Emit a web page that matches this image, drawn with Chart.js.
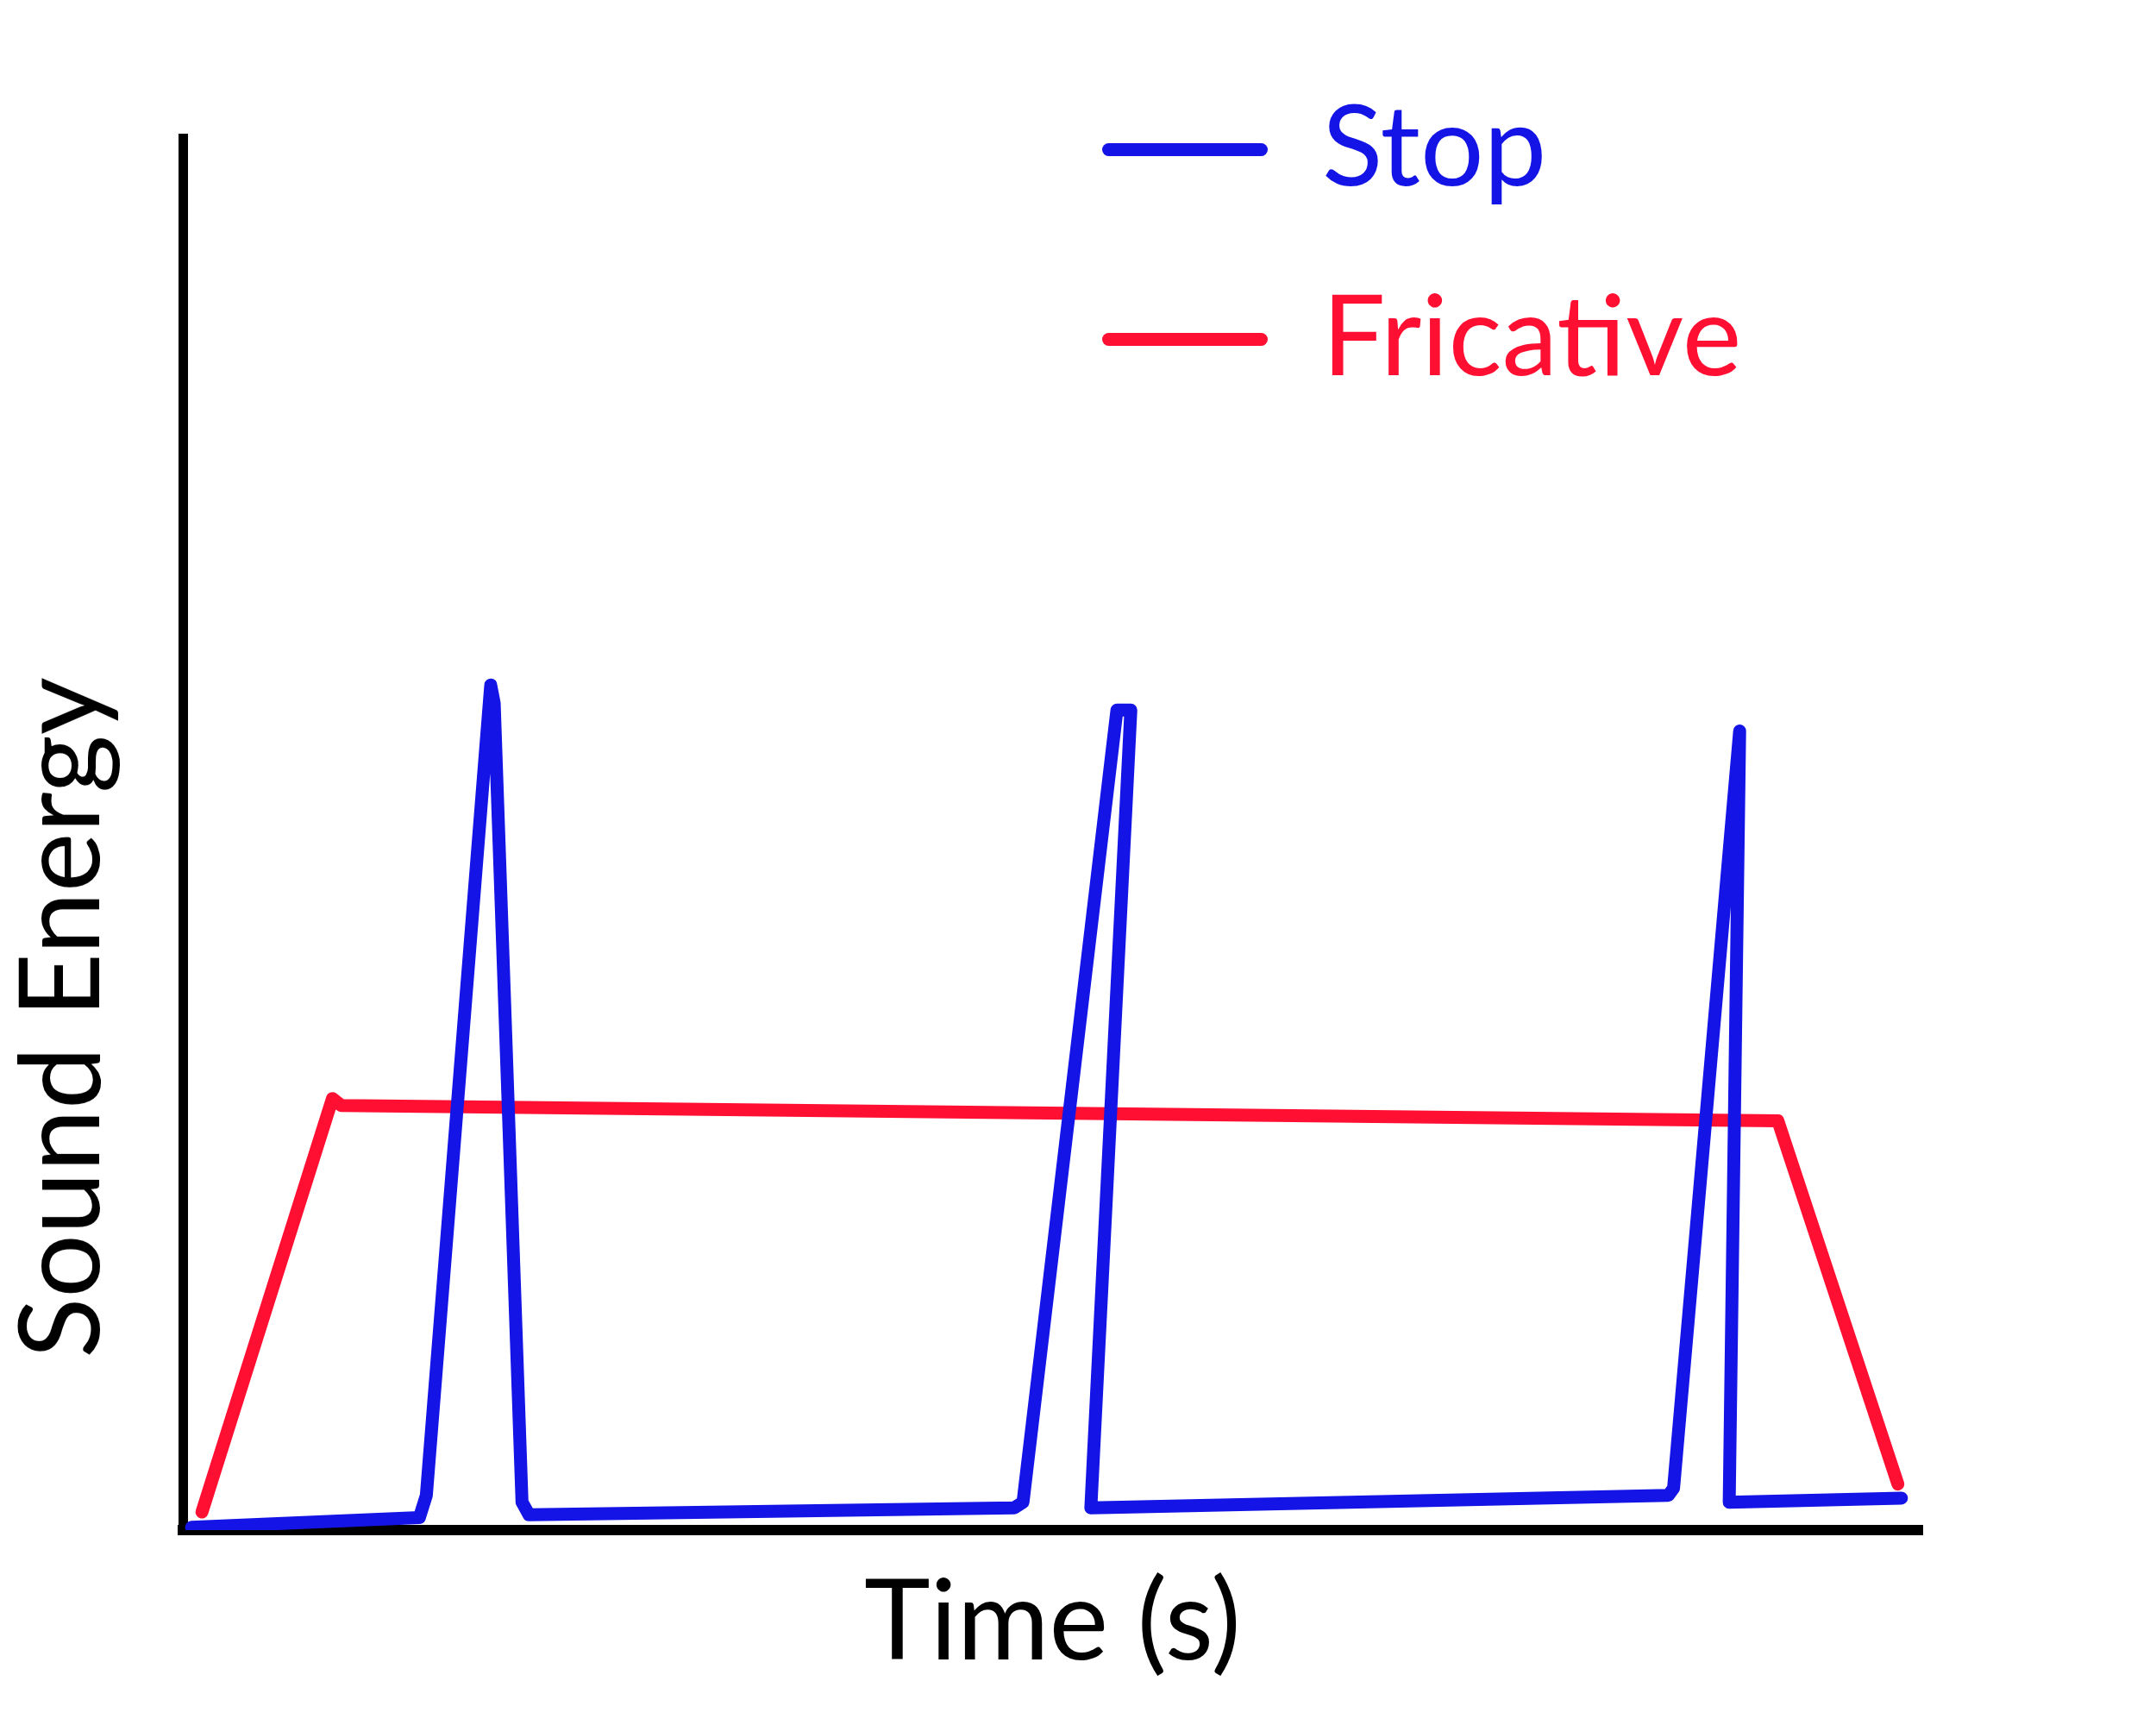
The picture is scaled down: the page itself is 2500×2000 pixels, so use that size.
<!DOCTYPE html>
<html>
<head>
<meta charset="utf-8">
<script src="https://cdn.jsdelivr.net/npm/chart.js@4"></script>
<style>
    body { margin: 0; background: #fff; }
    #wrap { position: relative; width: 2500px; height: 2000px; }
    #legend { position: absolute; left: 1278px; top: 80px; font-family: Lato, sans-serif; }
    .item { position: relative; height: 220px; }
    .swatch { position: absolute; left: 0; width: 192px; height: 15px; border-radius: 8px; }
    .label { position: absolute; left: 255px; font-size: 130px; line-height: 1; white-space: nowrap; }
    #ytitle { position: absolute; left: 65px; top: 1180px; font-family: Lato, sans-serif; font-size: 130px;
              line-height: 1; white-space: nowrap; color: #000;
              transform: translate(-50%, -50%) rotate(-90deg); }
</style>
</head>
<body>
<div id="wrap">
    <canvas id="grafica" width="2500" height="2000"></canvas>
    <div id="legend">
        <div class="item">
            <div class="swatch" style="top: 86px; background: #1414E6;"></div>
            <div class="label" style="top: 20px; color: #1414E6;">Stop</div>
        </div>
        <div class="item">
            <div class="swatch" style="top: 86px; background: #FF1033;"></div>
            <div class="label" style="top: 20px; color: #FF1033;">Fricative</div>
        </div>
    </div>
    <div id="ytitle">Sound Energy</div>
</div>
<script>
// time (arbitrary units 0-100) and sound energy (0-100)
const stopTime = [0.5, 13.6, 14.0, 17.7, 17.9, 19.5, 19.9, 47.8, 48.3, 53.7, 54.5, 52.2, 85.4, 85.7, 89.5, 88.9, 98.8];
const stopEnergy = [0.2, 0.9, 2.5, 60.7, 59.4, 2.0, 1.1, 1.6, 2.0, 58.9, 58.9, 1.6, 2.5, 3.0, 57.4, 2.0, 2.3];

const fricTime = [1.1, 8.6, 9.1, 91.7, 98.6];
const fricEnergy = [1.3, 31.0, 30.5, 29.4, 3.3];

const seriesNames = ["Stop", "Fricative"];
const xTitle = "Time (s)";

document.addEventListener("DOMContentLoaded", function () {

    let ctx = document.getElementById("grafica").getContext("2d");

    function puntos(xs, ys) {
        return xs.map(function (x, i) { return { x: x, y: ys[i] }; });
    }

    let chart = new Chart(ctx, {
        type: "scatter",
        data: {
            datasets: [
                {
                    label: seriesNames[0],
                    data: puntos(stopTime, stopEnergy),
                    showLine: true,
                    borderColor: "#1414E6",
                    borderWidth: 15,
                    borderCapStyle: "round",
                    borderJoinStyle: "round",
                    pointRadius: 0
                },
                {
                    label: seriesNames[1],
                    data: puntos(fricTime, fricEnergy),
                    showLine: true,
                    borderColor: "#FF1033",
                    borderWidth: 15,
                    borderCapStyle: "round",
                    borderJoinStyle: "round",
                    pointRadius: 0
                }
            ]
        },
        options: {
            responsive: false,
            animation: false,
            layout: {
                padding: { left: 212, top: 160, right: 271, bottom: 40 }
            },
            scales: {
                x: {
                    type: "linear",
                    min: 0,
                    max: 100,
                    grid: { display: false, drawTicks: false },
                    ticks: { display: false },
                    border: { display: true, color: "#000", width: 12 },
                    title: {
                        display: true,
                        text: xTitle,
                        color: "#000",
                        font: { family: "Lato", size: 130 },
                        padding: { top: 30, bottom: 0 }
                    }
                },
                y: {
                    min: 0,
                    max: 100,
                    grid: { display: false, drawTicks: false },
                    ticks: { display: false },
                    border: { display: true, color: "#000", width: 11 }
                }
            },
            plugins: {
                legend: { display: false },
                tooltip: { enabled: false }
            }
        }
    });

});
</script>
</body>
</html>
